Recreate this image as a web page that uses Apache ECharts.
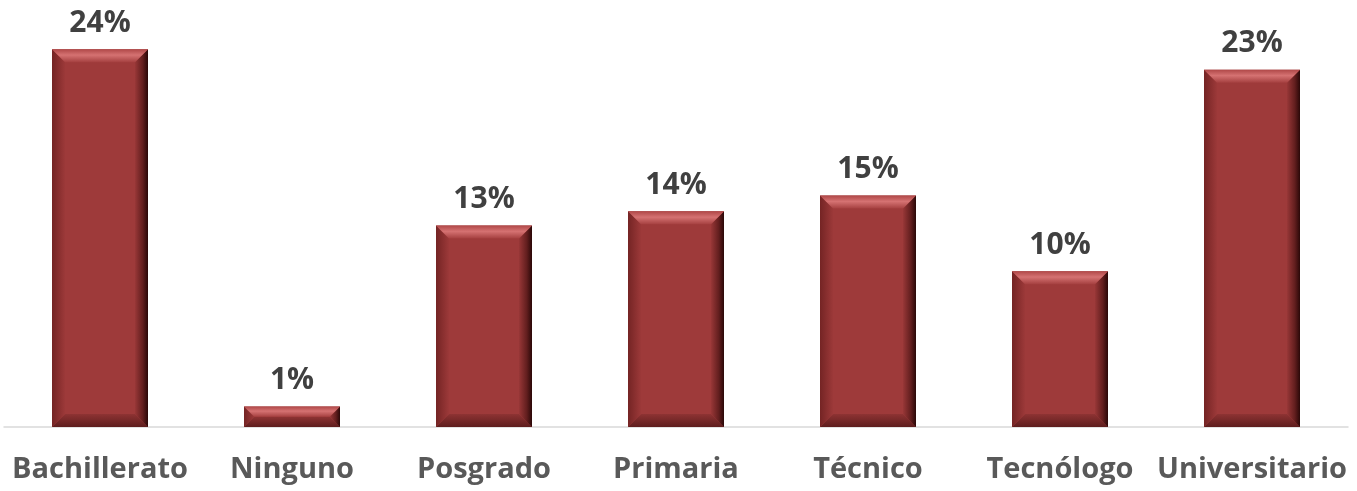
<!DOCTYPE html>
<html>
<head>
<meta charset="utf-8">
<script src="https://cdn.jsdelivr.net/npm/echarts@6/dist/echarts.min.js"></script>
<style>
html,body{margin:0;padding:0;background:#fff;}
#chart{width:1357px;height:491px;}
</style>
</head>
<body>
<div id="chart"></div>
<script>
const categories = ['Bachillerato', 'Ninguno', 'Posgrado', 'Primaria', 'Técnico', 'Tecnólogo', 'Universitario'];
const values = [24.0, 1.3, 12.8, 13.7, 14.7, 9.9, 22.7];

const chart = echarts.init(document.getElementById('chart'));

function lin(x, y, x2, y2, stops) {
  return new echarts.graphic.LinearGradient(x, y, x2, y2, stops);
}

function renderBar(params, api) {
  const idx = api.value(0);
  const v = api.value(1);
  const topPt = api.coord([idx, v]);
  const basePt = api.coord([idx, 0]);
  const bw = api.size([1, 0])[0] * 0.5;
  const cx = topPt[0];
  const l = cx - bw / 2, r = cx + bw / 2, t = topPt[1], b = basePt[1];
  const d = Math.min(13, (b - t) / 2);
  return {
    type: 'group',
    children: [
      { type: 'rect', shape: { x: l, y: t, width: bw, height: b - t },
        style: { fill: '#9E3A3A' } },
      { type: 'polygon', shape: { points: [[l, b], [l + d, b - d], [r - d, b - d], [r, b]] },
        style: { fill: lin(0, 0, 0, 1, [{offset: 0, color: '#8E3333'}, {offset: 1, color: '#5E1D1D'}]) } },
      { type: 'polygon', shape: { points: [[l, t], [l + d, t + d], [l + d, b - d], [l, b]] },
        style: { fill: lin(0, 0, 1, 0, [{offset: 0, color: '#742424'}, {offset: 1, color: '#9C3939'}]) } },
      { type: 'polygon', shape: { points: [[r, t], [r, b], [r - d, b - d], [r - d, t + d]] },
        style: { fill: lin(0, 0, 1, 0, [{offset: 0, color: '#983737'}, {offset: 0.6, color: '#621E1E'}, {offset: 1, color: '#2A0808'}]) } },
      { type: 'polygon', shape: { points: [[l, t], [r, t], [r - d, t + d], [l + d, t + d]] },
        style: { fill: lin(0, 0, 0, 1, [{offset: 0, color: '#B04848'}, {offset: 0.45, color: '#D57272'}, {offset: 1, color: '#A54040'}]) } },
      { type: 'text', x: cx, y: t - 11,
        style: { text: Math.round(v) + '%', textAlign: 'center', textVerticalAlign: 'bottom',
                 font: 'bold 30px "Open Sans"', fill: '#404040' } }
    ]
  };
}

chart.setOption({
  animation: false,
  grid: { left: 4, right: 9, top: 33.5, bottom: 64 },
  xAxis: {
    type: 'category',
    data: categories,
    axisLine: { show: true, lineStyle: { color: '#D9D9D9', width: 1.5 } },
    axisTick: { show: false },
    axisLabel: { interval: 0, margin: 28, color: '#595959', fontSize: 29,
                 fontWeight: 'bold', fontFamily: 'Open Sans' }
  },
  yAxis: { type: 'value', min: 0, max: 25, show: false, splitLine: { show: false } },
  series: [{
    type: 'custom',
    renderItem: renderBar,
    data: values.map((v, i) => [i, v]),
    encode: { x: 0, y: 1 }
  }]
});
</script>
</body>
</html>
